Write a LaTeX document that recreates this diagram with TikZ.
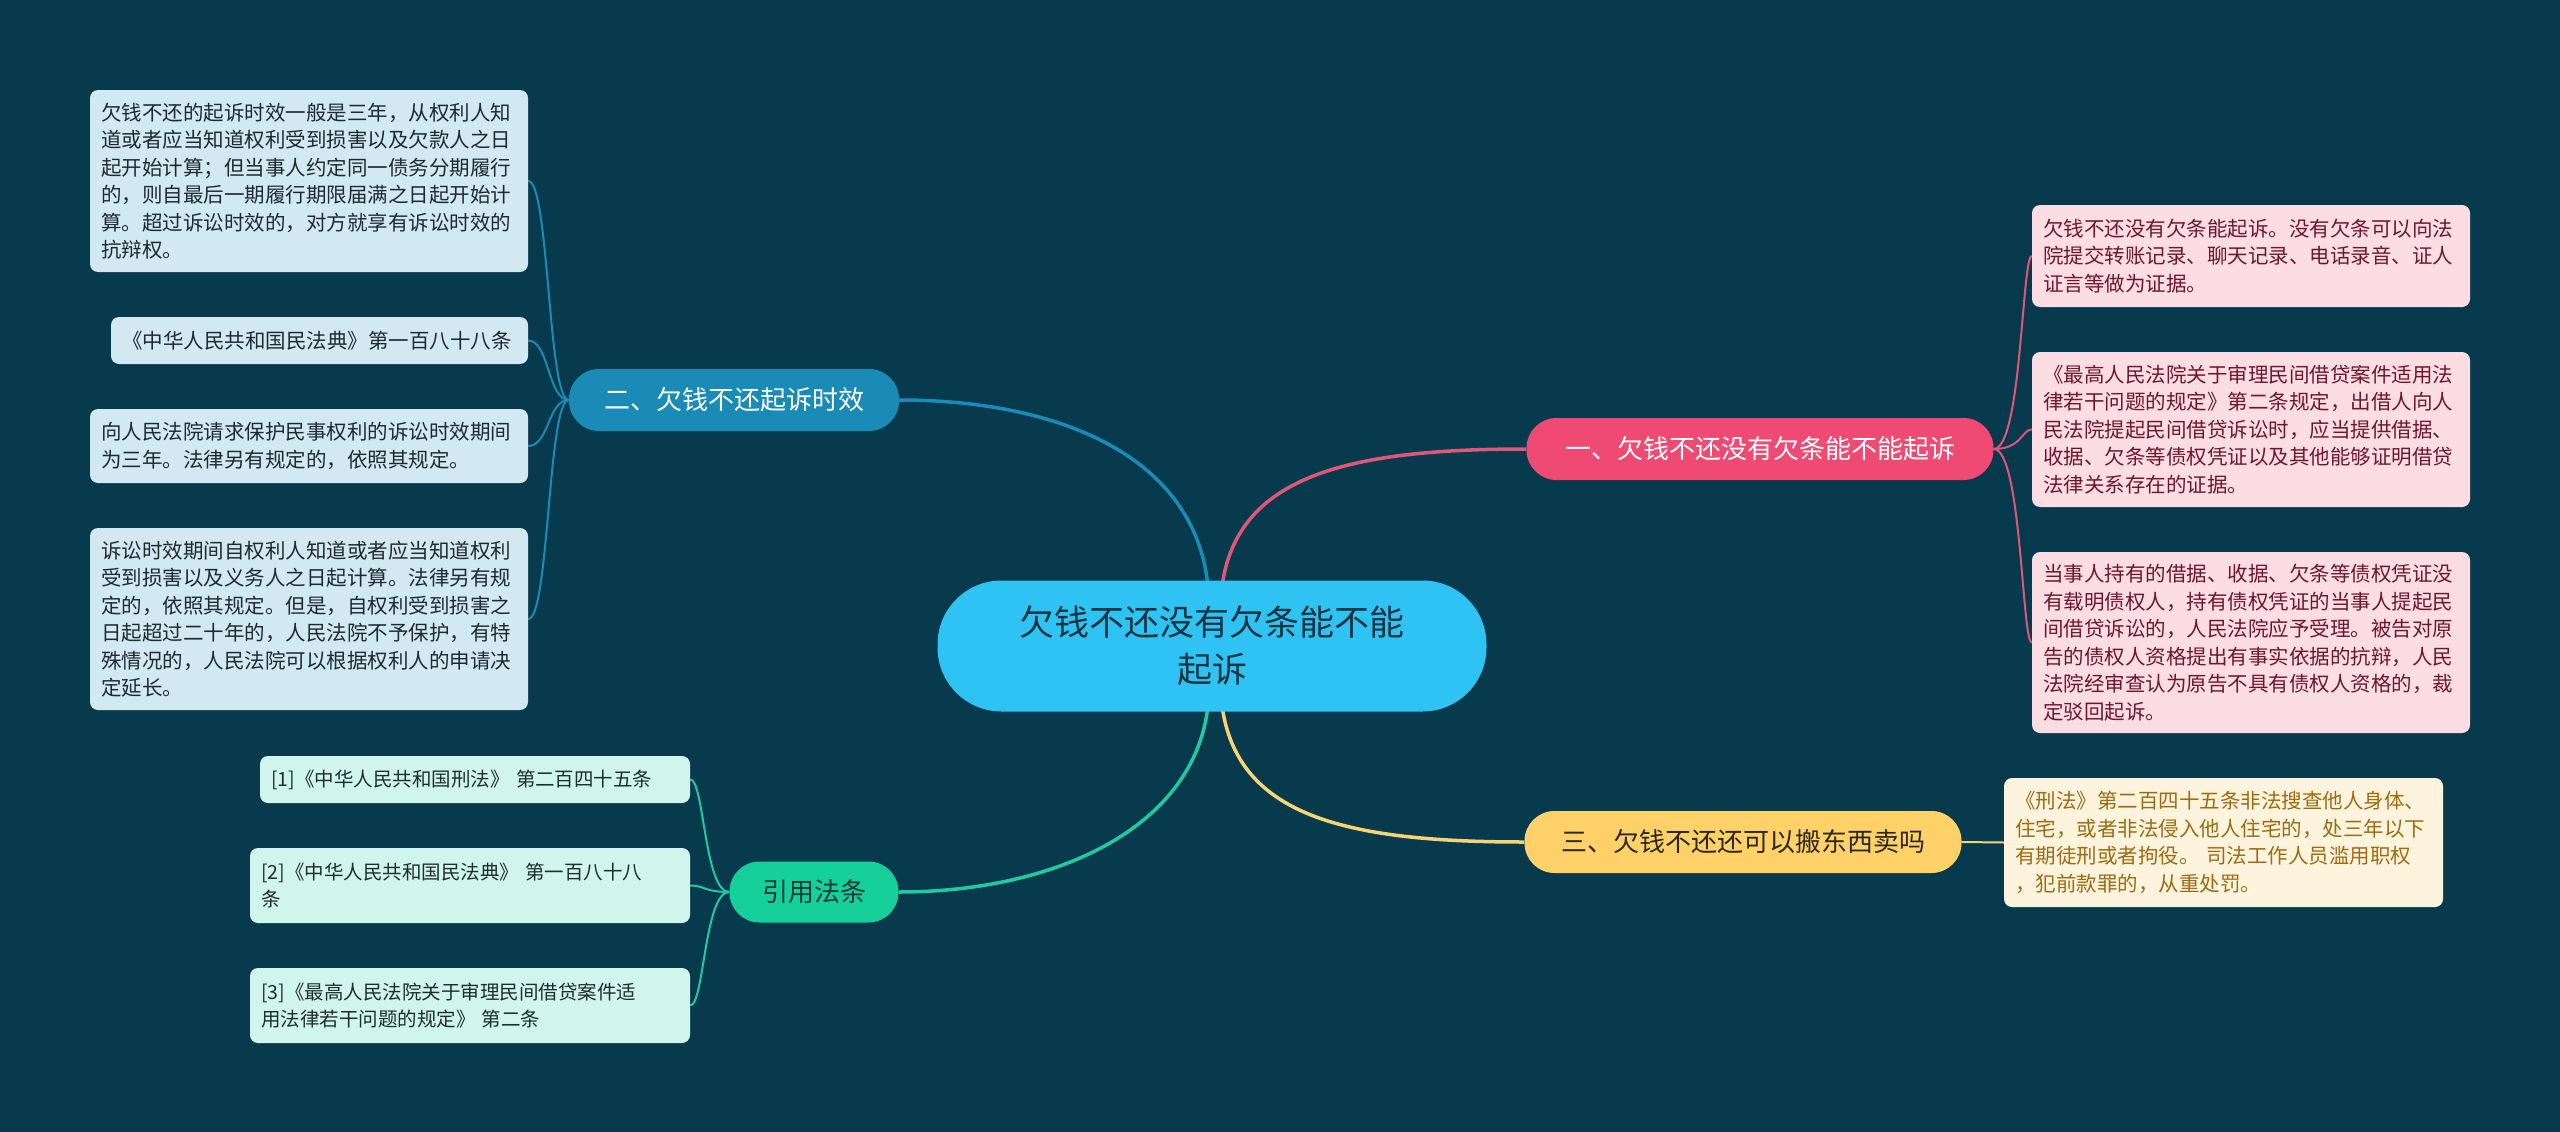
\documentclass[tikz,border=0pt]{standalone}
\usepackage{fontspec}
\setmainfont{Noto Sans CJK SC}
\pgfdeclarelayer{bglayer}
\pgfdeclarelayer{lines}
\pgfsetlayers{bglayer,lines,main}
\definecolor{bgc}{RGB}{8,58,77}
\definecolor{cfill}{RGB}{46,195,242}
\definecolor{ctext}{RGB}{26,52,66}
\definecolor{bluebr}{RGB}{26,139,182}
\definecolor{blueleaf}{RGB}{210,233,241}
\definecolor{bluetext}{RGB}{30,42,48}
\definecolor{pinkbr}{RGB}{238,74,115}
\definecolor{pinkline}{RGB}{222,86,122}
\definecolor{pinkleaf}{RGB}{252,221,228}
\definecolor{pinktext}{RGB}{110,22,49}
\definecolor{yelbr}{RGB}{255,209,104}
\definecolor{yelline}{RGB}{246,212,115}
\definecolor{yelleaf}{RGB}{254,244,222}
\definecolor{yeltext}{RGB}{156,107,18}
\definecolor{yelbrtext}{RGB}{43,40,26}
\definecolor{grnbr}{RGB}{22,208,155}
\definecolor{grnline}{RGB}{34,201,160}
\definecolor{grnleaf}{RGB}{208,245,236}
\definecolor{grntext}{RGB}{30,46,42}
\definecolor{grnbrtext}{RGB}{14,59,53}
\begin{document}
\begin{tikzpicture}[x=1pt,y=-1pt,
  central/.style={fill=cfill, text=ctext, rounded corners=64pt, minimum width=549pt, minimum height=131pt, inner sep=0pt, align=center, font=\fontsize{35}{47}\selectfont},
  branch/.style={rounded corners=30pt, minimum height=62pt, inner sep=0pt, align=center, font=\fontsize{26}{30}\selectfont},
  leafbox/.style={rounded corners=8pt, inner xsep=11pt, inner ysep=0pt, align=left, font=\fontsize{20.5}{27.5}\selectfont},
  bleaf/.style={leafbox, fill=blueleaf, text=bluetext},
  pleaf/.style={leafbox, fill=pinkleaf, text=pinktext},
  yleaf/.style={leafbox, fill=yelleaf, text=yeltext},
  gleaf/.style={leafbox, fill=grnleaf, text=grntext, font=\fontsize{19.5}{27.5}\selectfont},
  mainline/.style={line width=3.5pt},
  leafline/.style={line width=2pt}
]
\begin{pgfonlayer}{bglayer}
\fill[bgc] (0,0) rectangle (2560,1132);
\end{pgfonlayer}
\useasboundingbox (0,0) rectangle (2560,1132);

% central
\node[central] (c) at (1212,646) {欠钱不还没有欠条能不能\\起诉};

% branches
\node[branch, fill=bluebr, text=white, minimum width=330pt] (b2) at (734,400) {二、欠钱不还起诉时效};
\node[branch, fill=pinkbr, text=white, minimum width=467pt] (b1) at (1760,449) {一、欠钱不还没有欠条能不能起诉};
\node[branch, fill=yelbr, text=yelbrtext, minimum width=437pt] (b3) at (1743,842) {三、欠钱不还还可以搬东西卖吗};
\node[branch, fill=grnbr, text=grnbrtext, minimum width=169pt, minimum height=61pt] (b4) at (814,892) {引用法条};

% blue leaves
\node[bleaf, text width=416pt, minimum height=182pt] (L1) at (309,181) {欠钱不还的起诉时效一般是三年，从权利人知\\道或者应当知道权利受到损害以及欠款人之日\\起开始计算；但当事人约定同一债务分期履行\\的，则自最后一期履行期限届满之日起开始计\\算。超过诉讼时效的，对方就享有诉讼时效的\\抗辩权。};
\node[bleaf, text width=395pt, minimum height=47pt] (L2) at (319.5,340.5) {《中华人民共和国民法典》第一百八十八条};
\node[bleaf, text width=416pt, minimum height=74pt] (L3) at (309,446) {向人民法院请求保护民事权利的诉讼时效期间\\为三年。法律另有规定的，依照其规定。};
\node[bleaf, text width=416pt, minimum height=182pt] (L4) at (309,619) {诉讼时效期间自权利人知道或者应当知道权利\\受到损害以及义务人之日起计算。法律另有规\\定的，依照其规定。但是，自权利受到损害之\\日起超过二十年的，人民法院不予保护，有特\\殊情况的，人民法院可以根据权利人的申请决\\定延长。};

% pink leaves
\node[pleaf, text width=416pt, minimum height=102pt] (P1) at (2251,256) {欠钱不还没有欠条能起诉。没有欠条可以向法\\院提交转账记录、聊天记录、电话录音、证人\\证言等做为证据。};
\node[pleaf, text width=416pt, minimum height=155pt] (P2) at (2251,429.5) {《最高人民法院关于审理民间借贷案件适用法\\律若干问题的规定》第二条规定，出借人向人\\民法院提起民间借贷诉讼时，应当提供借据、\\收据、欠条等债权凭证以及其他能够证明借贷\\法律关系存在的证据。};
\node[pleaf, text width=416pt, minimum height=181pt] (P3) at (2251,642.5) {当事人持有的借据、收据、欠条等债权凭证没\\有载明债权人，持有债权凭证的当事人提起民\\间借贷诉讼的，人民法院应予受理。被告对原\\告的债权人资格提出有事实依据的抗辩，人民\\法院经审查认为原告不具有债权人资格的，裁\\定驳回起诉。};

% yellow leaf
\node[yleaf, text width=417pt, minimum height=129pt] (Y1) at (2223.5,842.5) {《刑法》第二百四十五条非法搜查他人身体、\\住宅，或者非法侵入他人住宅的，处三年以下\\有期徒刑或者拘役。 司法工作人员滥用职权\\，犯前款罪的，从重处罚。};

% green leaves
\node[gleaf, text width=408pt, minimum height=47pt] (G1) at (475,779.5) {[1]《中华人民共和国刑法》 第二百四十五条};
\node[gleaf, text width=418pt, minimum height=75pt] (G2) at (470,885.5) {[2]《中华人民共和国民法典》 第一百八十八\\条};
\node[gleaf, text width=418pt, minimum height=75pt] (G3) at (470,1005.5) {[3]《最高人民法院关于审理民间借贷案件适\\用法律若干问题的规定》 第二条};

\begin{pgfonlayer}{lines}
% main connectors
\draw[mainline, bluebr] ([xshift=-4pt,yshift=-6pt]c.north) .. controls +(-13,-130) and +(160,0) .. (b2.east);
\draw[mainline, pinkline] ([xshift=10pt,yshift=-6pt]c.north) .. controls +(15,-110) and +(-180,0) .. (b1.west);
\draw[mainline, yelline] ([xshift=10pt,yshift=6pt]c.south) .. controls +(15,110) and +(-180,0) .. (b3.west);
\draw[mainline, grnline] ([xshift=-4pt,yshift=6pt]c.south) .. controls +(-13,120) and +(160,0) .. (b4.east);
% blue leaves
\foreach \n in {L1,L2,L3,L4}
  \draw[leafline, bluebr] (b2.west) .. controls +(-21,0) and +(21,0) .. (\n.east);
% pink leaves
\foreach \n in {P1,P2,P3}
  \draw[leafline, pinkline] (b1.east) .. controls +(28,0) and +(-10,0) .. (\n.west);
% yellow leaf
\draw[leafline, yelline] (b3.east) -- (Y1.west);
% green leaves
\foreach \n in {G1,G2,G3}
  \draw[leafline, grnline] (b4.west) .. controls +(-25,0) and +(14,0) .. (\n.east);
\end{pgfonlayer}
\end{tikzpicture}
\end{document}
